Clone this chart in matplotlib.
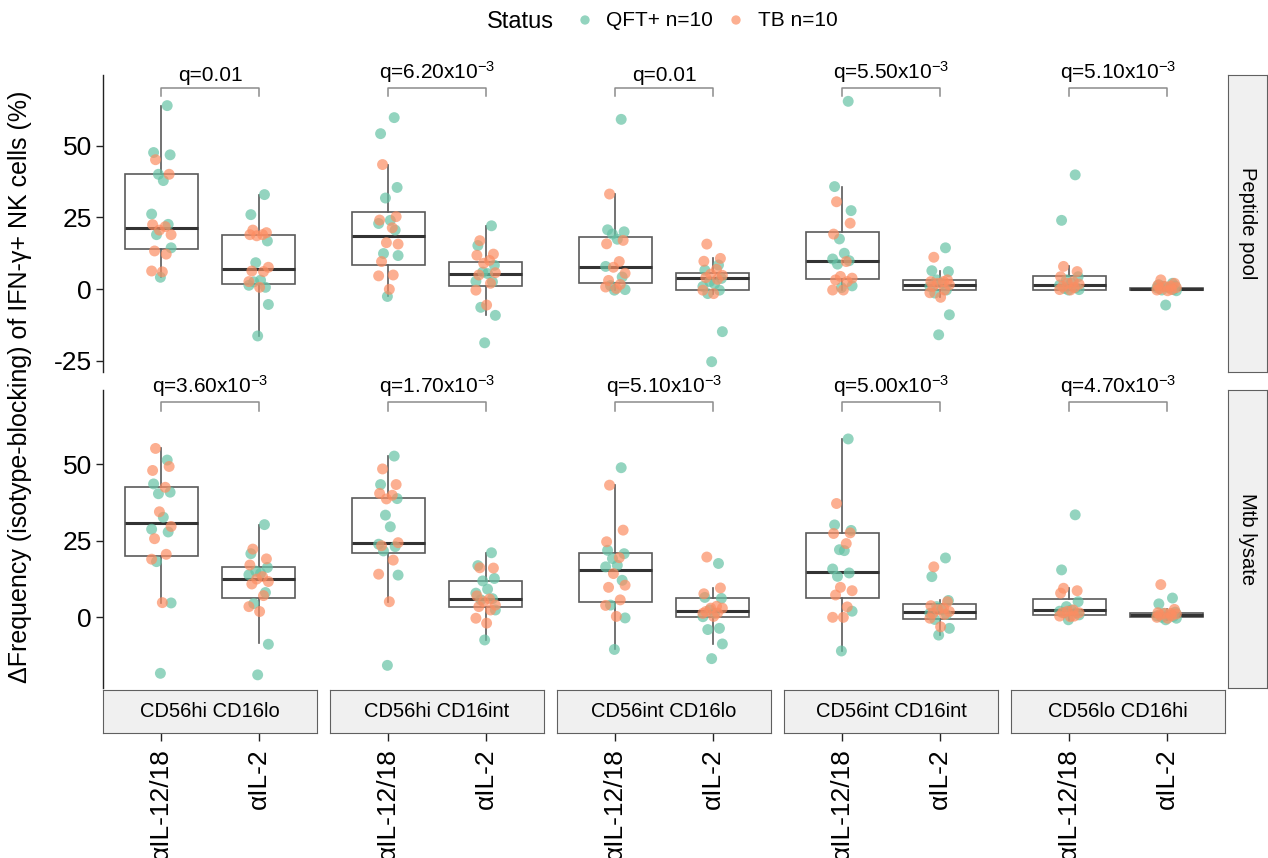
import numpy as np
import matplotlib
matplotlib.use("Agg")
import matplotlib.pyplot as plt
from matplotlib.transforms import ScaledTranslation

plt.rcParams["font.family"] = ["Liberation Sans", "DejaVu Sans"]
plt.rcParams["mathtext.fontset"] = "custom"
plt.rcParams["mathtext.rm"] = "Liberation Sans"
plt.rcParams["mathtext.it"] = "Liberation Sans:italic"
plt.rcParams["mathtext.bf"] = "Liberation Sans:bold"

subsets = ["CD56hi CD16lo", "CD56hi CD16int", "CD56int CD16lo", "CD56int CD16int", "CD56lo CD16hi"]
treatments = ["αIL-12/18", "αIL-2"]
stimuli = ["Peptide pool", "Mtb lysate"]
status_labels = ["QFT+ n=10", "TB n=10"]

# one list per subset x treatment (subset-major): IL-12/18, IL-2, IL-12/18, IL-2 ...
pep_qft = [
    [64.1, 47.7, 46.9, 40.1, 37.9, 26.2, 22.6, 19.0, 14.4, 4.1],
    [33.0, 26.0, 16.8, 9.2, 3.1, 1.3, 0.6, 2.5, -5.4, -16.4],
    [59.9, 54.3, 35.5, 31.8, 24.0, 22.9, 20.6, 12.4, 11.7, -2.6],
    [22.1, 15.2, 8.3, 5.9, 5.4, 2.7, 2.5, -6.4, -9.2, -18.8],
    [59.3, 20.7, 20.0, 19.2, 17.4, 7.9, 4.2, 1.2, -0.2, -0.4],
    [8.4, 6.6, 3.7, 2.6, 1.8, 0.9, -0.4, -1.6, -14.9, -25.4],
    [65.6, 35.8, 27.4, 17.5, 12.5, 10.5, 9.9, 8.7, 1.1, 0.5],
    [14.4, 6.4, 6.1, 3.2, 2.0, 0.9, -0.35, -1.4, -9.0, -16.0],
    [39.9, 24.0, 4.3, 3.2, 2.0, 1.4, 0.5, 0.2, -0.2, -0.35],
    [2.0, 1.5, 1.0, 0.9, 0.5, 0.4, -0.2, -0.35, -0.6, -5.6],
]
pep_tb = [
    [45.2, 40.1, 22.5, 21.8, 20.6, 19.0, 13.3, 12.2, 6.3, 6.0],
    [20.6, 19.7, 19.0, 19.0, 18.6, 7.6, 6.3, 6.1, 2.6, 0.6],
    [43.5, 25.3, 24.1, 21.4, 16.2, 15.7, 9.6, 4.9, 4.6, -0.1],
    [16.9, 12.2, 11.8, 10.0, 9.0, 5.7, 4.9, 2.0, -0.4, -5.6],
    [33.2, 17.0, 15.8, 9.6, 7.6, 5.5, 3.0, 1.6, 0.7, 0.2],
    [15.7, 10.7, 9.7, 6.9, 5.2, 4.8, 4.0, 3.4, -0.4, -1.6],
    [30.5, 23.0, 19.2, 9.6, 4.4, 3.8, 3.2, 2.6, -0.35, -0.35],
    [11.1, 3.2, 2.6, 2.6, 2.0, 1.5, 0.9, -0.35, -1.3, -2.9],
    [7.9, 6.1, 4.3, 2.6, 2.0, 1.7, 0.9, 0.5, -0.2, -0.35],
    [3.2, 2.0, 1.3, 1.0, 0.9, 0.5, 0.1, -0.2, -0.35, -0.6],
]
mtb_qft = [
    [51.3, 43.5, 40.8, 40.3, 32.6, 28.7, 27.8, 18.1, 4.6, -18.4],
    [30.2, 20.7, 16.2, 15.0, 14.3, 13.8, 8.0, 4.4, -8.9, -18.9],
    [52.6, 43.3, 38.7, 33.3, 29.5, 23.8, 23.0, 21.6, 13.7, -15.8],
    [21.0, 16.8, 12.6, 11.8, 9.1, 7.8, 6.0, 5.6, 2.3, -7.5],
    [48.8, 21.8, 20.7, 19.1, 16.9, 16.4, 12.0, 3.9, -0.3, -10.6],
    [17.5, 6.4, 6.1, 2.3, 1.2, 0.1, -3.7, -4.1, -8.8, -13.6],
    [58.2, 30.1, 28.3, 22.0, 21.7, 15.7, 14.4, 13.3, 1.9, -11.1],
    [19.3, 13.2, 5.4, 3.4, 2.4, 1.2, 0.8, -0.8, -3.7, -5.9],
    [33.4, 15.4, 5.0, 3.4, 2.3, 1.9, 1.4, 1.4, 0.7, -0.9],
    [6.2, 4.3, 1.6, 1.2, 0.7, 0.4, 0.2, -0.1, -0.4, -0.9],
]
mtb_tb = [
    [55.1, 49.2, 47.9, 42.4, 34.4, 29.6, 25.6, 20.5, 18.9, 4.7],
    [22.2, 19.0, 17.0, 13.2, 12.4, 11.6, 10.8, 7.0, 3.4, 1.8],
    [48.4, 43.3, 40.4, 39.8, 38.6, 24.3, 23.3, 18.6, 14.0, 5.0],
    [16.1, 16.0, 6.9, 5.9, 5.0, 3.9, 3.4, 2.3, -0.4, -2.0],
    [43.1, 28.4, 24.6, 19.4, 14.2, 10.4, 9.7, 5.6, 3.8, 0.2],
    [19.6, 9.5, 7.6, 3.5, 2.9, 2.9, 1.8, 1.3, 1.2, 0.2],
    [37.1, 27.5, 27.3, 24.0, 9.7, 8.6, 7.2, 3.3, -0.1, -0.1],
    [16.4, 5.0, 3.7, 2.9, 2.4, 1.8, 1.2, 0.8, -0.4, -3.2],
    [9.4, 8.6, 7.8, 2.3, 1.9, 1.4, 1.4, 0.3, 0.3, 0.1],
    [10.6, 2.5, 1.4, 1.2, 1.2, 1.0, 0.7, 0.4, -0.1, -0.4],
]

# box summaries (q1, median, q3, lower whisker, upper whisker)
pep_q1 = [14.1, 1.75, 8.5, 1.0, 2.1, -0.35, 3.5, -0.35, -0.2, -0.35]
pep_med = [21.3, 7.1, 18.4, 5.2, 7.6, 3.7, 9.8, 1.3, 1.4, 0.1]
pep_q3 = [40.2, 19.0, 26.8, 9.6, 18.2, 5.6, 20.0, 3.2, 4.5, 0.5]
pep_lo = [4.1, -16.4, -2.6, -9.2, -0.4, -1.6, -0.35, -2.9, -0.35, -0.6]
pep_hi = [64.1, 33.0, 43.5, 22.1, 33.2, 10.7, 35.8, 6.4, 7.9, 1.5]
mtb_q1 = [19.9, 6.2, 21.0, 3.4, 5.0, 0.0, 6.1, -0.5, 0.5, -0.1]
mtb_med = [30.8, 12.3, 24.1, 5.9, 15.4, 2.1, 14.6, 1.8, 2.3, 0.5]
mtb_q3 = [42.6, 16.2, 39.0, 11.8, 21.0, 6.1, 27.3, 4.2, 5.9, 1.2]
mtb_lo = [4.7, -8.6, 5.0, -7.5, -10.6, -8.8, -11.1, -5.9, -0.9, -0.9]
mtb_hi = [55.1, 30.0, 52.6, 21.0, 43.1, 9.5, 58.2, 5.4, 9.4, 2.5]

pep_q = ["q=0.01", r"q=6.20x10$^{-3}$", "q=0.01", r"q=5.50x10$^{-3}$", r"q=5.10x10$^{-3}$"]
mtb_q = [r"q=3.60x10$^{-3}$", r"q=1.70x10$^{-3}$", r"q=5.10x10$^{-3}$",
         r"q=5.00x10$^{-3}$", r"q=4.70x10$^{-3}$"]

green = "#66c2a5"
orange = "#fc8d62"
box_col = "#5a5a5a"
strip_fill = "#f0f0f0"
strip_edge = "#606060"

# horizontal spread of the dots around each box
jit_qft = [0.06, -0.08, 0.09, -0.03, 0.02, -0.10, 0.07, -0.05, 0.10, -0.01]
jit_tb = [-0.06, 0.08, -0.09, 0.04, -0.02, 0.10, -0.07, 0.05, -0.10, 0.01]

W, H = 1268, 858
fig = plt.figure(figsize=(W / 100, H / 100), dpi=100)


def px_box(x, y, w, h):
    return [x / W, 1 - (y + h) / H, w / W, h / H]


col_x = [103, 330, 557, 784, 1011]
col_w = 214
rows = [
    dict(qft=pep_qft, tb=pep_tb, q1=pep_q1, med=pep_med, q3=pep_q3, lo=pep_lo, hi=pep_hi,
         q=pep_q, top=75, h=297, ylim=(-29.0, 74.8), ticks=[-25, 0, 25, 50]),
    dict(qft=mtb_qft, tb=mtb_tb, q1=mtb_q1, med=mtb_med, q3=mtb_q3, lo=mtb_lo, hi=mtb_hi,
         q=mtb_q, top=390, h=298, ylim=(-23.2, 74.2), ticks=[0, 25, 50]),
]

for r, row in enumerate(rows):
    for c in range(5):
        ax = fig.add_axes(px_box(col_x[c], row["top"], col_w, row["h"]))

        stats = []
        for k in range(2):
            i = 2 * c + k
            stats.append(dict(med=row["med"][i], q1=row["q1"][i], q3=row["q3"][i],
                              whislo=row["lo"][i], whishi=row["hi"][i]))
        ax.bxp(stats, positions=[1, 2], widths=0.75, showfliers=False, showcaps=False,
               patch_artist=True, manage_ticks=False,
               boxprops=dict(facecolor="white", edgecolor=box_col, linewidth=1.2),
               whiskerprops=dict(color=box_col, linewidth=1.2),
               medianprops=dict(color="#333333", linewidth=2.2))

        for k in range(2):
            i = 2 * c + k
            ax.scatter(np.array(jit_qft) + k + 1, row["qft"][i], s=62, color=green,
                       alpha=0.7, edgecolors="none", zorder=3)
            ax.scatter(np.array(jit_tb) + k + 1, row["tb"][i], s=62, color=orange,
                       alpha=0.7, edgecolors="none", zorder=3)

        ax.set_xlim(0.4, 2.6)
        ax.set_ylim(*row["ylim"])
        for s in ax.spines.values():
            s.set_visible(False)
        ax.set_xticks([])
        if c == 0:
            ax.spines["left"].set_visible(True)
            ax.spines["left"].set_color("#222222")
            ax.spines["left"].set_linewidth(1.0)
            ax.set_yticks(row["ticks"])
            ax.set_yticklabels([str(t) for t in row["ticks"]], fontsize=19)
            ax.tick_params(axis="y", length=5, width=1.0, color="#222222", pad=3)
        else:
            ax.set_yticks([])

        # comparison bracket with the q-value
        ax.plot([1, 1, 2, 2], [67.3, 70.2, 70.2, 67.3], color="#8c8c8c", lw=1.1, clip_on=False)
        ax.text(1.5, 71.2, row["q"][c], ha="center", va="bottom", fontsize=15, clip_on=False)

    # facet strip on the right
    sax = fig.add_axes(px_box(1228, row["top"], 39, row["h"]))
    sax.set_facecolor(strip_fill)
    sax.set_xticks([])
    sax.set_yticks([])
    for s in sax.spines.values():
        s.set_color(strip_edge)
    sax.text(0.5, 0.5, stimuli[r], rotation=-90, ha="center", va="center",
             fontsize=14.5, transform=sax.transAxes)

# subset strips under the lower row, carrying the treatment ticks
shift = ScaledTranslation(8 / 100, 0, fig.dpi_scale_trans)
for c in range(5):
    bax = fig.add_axes(px_box(col_x[c], 690, col_w, 43))
    bax.set_facecolor(strip_fill)
    bax.set_xlim(0.4, 2.6)
    bax.set_ylim(0, 1)
    bax.set_yticks([])
    bax.set_xticks([1, 2])
    bax.set_xticklabels(treatments, rotation=90, fontsize=19)
    for lab in bax.get_xticklabels():
        lab.set_transform(lab.get_transform() + shift)
    bax.tick_params(axis="x", length=6, width=1.0, color="#222222", pad=5)
    for s in bax.spines.values():
        s.set_color(strip_edge)
    bax.text(1.5, 0.5, subsets[c], ha="center", va="center", fontsize=14.5)

fig.text(20 / W, 1 - 387 / H, "ΔFrequency (isotype-blocking) of IFN-γ+ NK cells (%)",
         rotation=90, ha="center", va="center", fontsize=18)

# legend across the top
lg = fig.add_axes(px_box(470, 0, 420, 42))
lg.set_xlim(470, 890)
lg.set_ylim(42, 0)
lg.axis("off")
lg.text(487, 22, "Status", ha="left", va="center", fontsize=17)
lg.scatter([585], [20], s=45, color=green, alpha=0.7, edgecolors="none")
lg.text(606, 20, status_labels[0], ha="left", va="center", fontsize=15)
lg.scatter([736], [20], s=45, color=orange, alpha=0.7, edgecolors="none")
lg.text(758, 20, status_labels[1], ha="left", va="center", fontsize=15)

fig.savefig("out.png", dpi=100)
